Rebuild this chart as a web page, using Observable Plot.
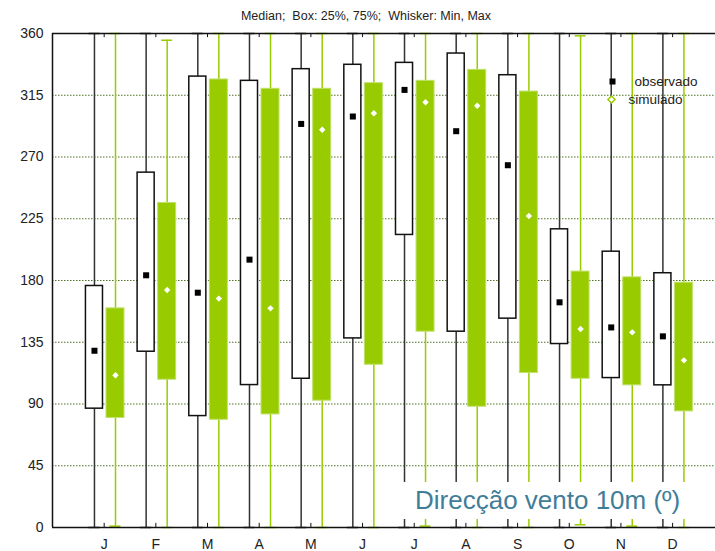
<!DOCTYPE html>
<html>
<head>
<meta charset="utf-8">
<script src="https://cdn.jsdelivr.net/npm/d3@7"></script>
<script src="https://cdn.jsdelivr.net/npm/@observablehq/plot@0.6"></script>
<style>
  html, body { margin: 0; padding: 0; background: #fff; }
  #wrap { position: relative; width: 715px; height: 551px; }
  #note {
    position: absolute; left: 403px; top: 482px; width: 295px; height: 37px;
    background: #fff; color: #3f7d99; font-family: "Liberation Sans", Arial, sans-serif;
    font-size: 26px; line-height: 37px; padding-left: 12px; box-sizing: border-box; white-space: nowrap;
  }
</style>
</head>
<body>
<div id="wrap"><div id="chart"></div><div id="note">Direcção vento 10m (º)</div></div>
<script>
const months = ["J","F","M","A","M","J","J","A","S","O","N","D"];
const monthIdx = [1,2,3,4,5,6,7,8,9,10,11,12];
const yTicks = [0,45,90,135,180,225,270,315,360];
const gridVals = [45,90,135,180,225,270,315];

const obsMin = [0,0,0,0,0,0,0,0,0,0,0,0];
const obsQ1  = [86.6,128.1,81.2,103.8,108.4,137.8,213.2,142.7,152.2,133.7,108.9,103.6];
const obsMed = [128.8,183.8,171.1,195.2,294.1,299.5,318.9,288.8,264.0,164.1,145.8,139.3];
const obsQ3  = [176.0,258.6,328.6,325.5,334.0,337.2,338.6,345.4,329.6,217.3,201.0,185.3];
const obsMax = [360,360,360,360,360,360,360,360,360,360,360,360];

const simMin = [1,0,0,0,0,0,1,0,0,2,1,0];
const simQ1  = [79.8,107.7,78.5,82.4,92.4,118.6,142.7,88.0,112.6,108.4,103.6,84.6];
const simMed = [111.0,173.1,166.8,159.7,289.8,301.9,309.9,307.3,227.0,144.7,142.2,121.8];
const simQ3  = [159.7,236.5,326.5,319.7,319.7,323.8,325.5,333.5,317.7,186.5,182.3,178.4];
const simMax = [360,355.1,360,360,360,360,360,360,360,358.3,360,360];

const title = "Median;\u00a0 Box: 25%, 75%;\u00a0 Whisker: Min, Max";
const legendLabels = ["observado", "simulado"];

const GREEN = "#99cc00";
const obsOff = -0.188, simOff = 0.219;
const obsHalf = 0.165, simHalf = 0.174, capHalf = 0.106;

const obs = monthIdx.map((m, i) => ({m, x: m + obsOff, min: obsMin[i], q1: obsQ1[i], med: obsMed[i], q3: obsQ3[i], max: obsMax[i]}));
const sim = monthIdx.map((m, i) => ({m, x: m + simOff, min: simMin[i], q1: simQ1[i], med: simMed[i], q3: simQ3[i], max: simMax[i]}));

const font = "Liberation Sans, Arial, Helvetica, sans-serif";

const chart = Plot.plot({
  width: 715,
  height: 551,
  marginLeft: 52,
  marginRight: 0,
  marginTop: 33,
  marginBottom: 24,
  style: {fontFamily: font, fontSize: "14px", color: "#222", background: "#fff"},
  x: {type: "linear", domain: [0, 12.83], axis: null},
  y: {type: "linear", domain: [0, 360], axis: null},
  marks: [
    Plot.ruleY(gridVals, {stroke: "#4f7320", strokeWidth: 1, strokeDasharray: "1.5,1.5"}),
    // whiskers
    Plot.ruleX(obs, {x: "x", y1: "min", y2: "max", stroke: "#333", strokeWidth: 1.5}),
    Plot.ruleX(sim, {x: "x", y1: "min", y2: "max", stroke: GREEN, strokeWidth: 1.5}),
    // caps
    Plot.ruleY(obs, {y: "min", x1: d => d.x - capHalf, x2: d => d.x + capHalf, stroke: "#222", strokeWidth: 1.5}),
    Plot.ruleY(obs, {y: "max", x1: d => d.x - capHalf, x2: d => d.x + capHalf, stroke: "#222", strokeWidth: 1.5}),
    Plot.ruleY(sim, {y: "min", x1: d => d.x - capHalf, x2: d => d.x + capHalf, stroke: GREEN, strokeWidth: 1.5}),
    Plot.ruleY(sim, {y: "max", x1: d => d.x - capHalf, x2: d => d.x + capHalf, stroke: GREEN, strokeWidth: 1.5}),
    // boxes
    Plot.rect(obs, {x1: d => d.x - obsHalf, x2: d => d.x + obsHalf, y1: "q1", y2: "q3", fill: "#fff", stroke: "#111", strokeWidth: 1.5}),
    Plot.rect(sim, {x1: d => d.x - simHalf, x2: d => d.x + simHalf, y1: "q1", y2: "q3", fill: GREEN, stroke: "#bfe06a", strokeWidth: 1}),
    // medians
    Plot.dot(obs, {x: "x", y: "med", symbol: "square", r: 3.4, fill: "#000", stroke: "none"}),
    Plot.dot(sim, {x: "x", y: "med", symbol: "diamond2", r: 2.9, fill: "#fff", stroke: "none"}),
    // frame
    Plot.ruleY([0, 360], {stroke: "#111", strokeWidth: 1.5}),
    Plot.ruleX([0], {stroke: "#111", strokeWidth: 1.5}),
    Plot.ruleX(monthIdx, {x: d => d, y1: 0, y2: 3, stroke: "#111", strokeWidth: 1}),
    Plot.ruleX(monthIdx, {x: d => d, y1: 357, y2: 360, stroke: "#111", strokeWidth: 1}),
    // axes
    Plot.axisY({ticks: yTicks, tickSize: 0, tickPadding: 9, fontSize: 14, label: null, tickFormat: d => String(d)}),
    Plot.axisX({ticks: monthIdx, tickSize: 0, tickPadding: 12, fontSize: 14, label: null, tickFormat: d => months[d - 1]}),
    // title
    Plot.text([title], {frameAnchor: "top", lineAnchor: "middle", dy: -18, dx: -18, text: d => d, fontSize: 12.5, fill: "#222", letterSpacing: 1.1}),
    // legend
    Plot.dot([legendLabels[0]], {frameAnchor: "top-left", dx: 560, dy: 48, symbol: "square", r: 3.4, fill: "#000"}),
    Plot.dot([legendLabels[1]], {frameAnchor: "top-left", dx: 559, dy: 66, symbol: "diamond2", r: 3.2, fill: "#fff", stroke: GREEN, strokeWidth: 1.5}),
    Plot.text([legendLabels[0]], {frameAnchor: "top-left", lineAnchor: "middle", dx: 582, dy: 48, text: d => d, textAnchor: "start", fontSize: 13.5, fill: "#222"}),
    Plot.text([legendLabels[1]], {frameAnchor: "top-left", lineAnchor: "middle", dx: 576, dy: 66, text: d => d, textAnchor: "start", fontSize: 13.5, fill: "#222"})
  ]
});
document.getElementById("chart").appendChild(chart);
</script>
</body>
</html>
